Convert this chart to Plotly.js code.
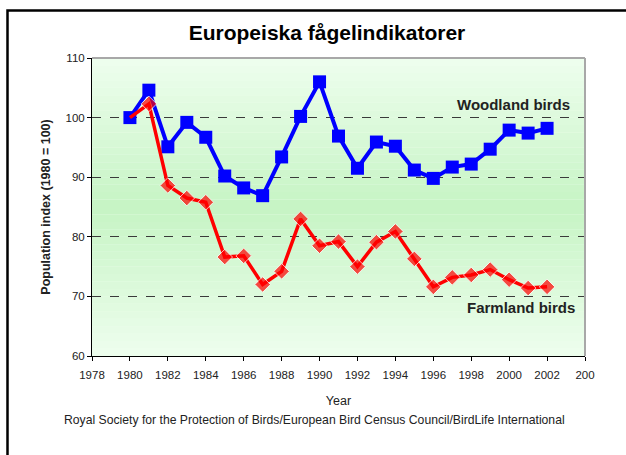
<!DOCTYPE html>
<html>
<head>
<meta charset="utf-8">
<script src="https://cdn.plot.ly/plotly-3.0.1.min.js"></script>
<style>html,body{margin:0;padding:0;background:#fff;}#chart{width:626px;height:455px;}</style>
</head>
<body>
<div id="chart"></div>
<script>
const years = [1980,1981,1982,1983,1984,1985,1986,1987,1988,1989,1990,1991,1992,1993,1994,1995,1996,1997,1998,1999,2000,2001,2002];
const woodland = [100,104.6,95.1,99.2,96.7,90.2,88.2,86.9,93.4,100.2,106.0,96.9,91.5,95.9,95.2,91.2,89.8,91.7,92.2,94.7,97.9,97.4,98.2];
const farmland = [100,102.3,88.6,86.5,85.8,76.6,76.8,72.0,74.2,83.0,78.5,79.2,75.0,79.1,80.9,76.3,71.6,73.2,73.6,74.5,72.8,71.4,71.6];
const xTickVals = [1978,1980,1982,1984,1986,1988,1990,1992,1994,1996,1998,2000,2002,2004];
const xTickText = ["1978","1980","1982","1984","1986","1988","1990","1992","1994","1996","1998","2000","2002","200"];
const yTickVals = [60,70,80,90,100,110];
const titleText = "Europeiska fågelindikatorer";
const yTitle = "Population index (1980 = 100)";
const xTitle = "Year";
const sourceText = "Royal Society for the Protection of Birds/European Bird Census Council/BirdLife International";
const labelWood = "Woodland birds";
const labelFarm = "Farmland birds";

// background gradient bands
const shapes = [];
const nb = 40;
const edge = [238,254,238], mid = [198,244,196];
for (let i = 0; i < nb; i++) {
  const c = (i + 0.5) / nb;
  const t = 1 - Math.abs(c - 0.5) / 0.5;
  const col = edge.map((e, k) => Math.round(e + (mid[k] - e) * t));
  shapes.push({type:'rect', xref:'paper', yref:'paper', x0:0, x1:1, y0:i/nb, y1:(i+1)/nb,
    fillcolor:'rgb(' + col.join(',') + ')', line:{width:0}, layer:'below'});
}
// plot border (top, right)
shapes.push({type:'line', xref:'paper', yref:'paper', x0:0, x1:1, y0:1, y1:1, line:{color:'#a8a8a8', width:2}, layer:'above'});
shapes.push({type:'line', xref:'paper', yref:'paper', x0:1, x1:1, y0:0, y1:1, line:{color:'#a8a8a8', width:2}, layer:'above'});
// outer frame
shapes.push({type:'rect', xref:'paper', yref:'paper', x0:-0.1714, x1:2, y0:-2, y1:1.1594, line:{color:'#000', width:2.5}, fillcolor:'rgba(0,0,0,0)', layer:'above'});

const traces = [
  {x: years, y: woodland, type:'scatter', mode:'lines+markers',
   line:{color:'#0000ff', width:4}, marker:{symbol:'square', size:13, color:'#0000ff'}, hoverinfo:'skip'},
  {x: years, y: farmland, type:'scatter', mode:'lines+markers',
   line:{color:'#ff0000', width:3.5}, marker:{symbol:'diamond', size:farmland.map((v,i)=> i===0 ? 0 : 12), color:'#ff0000'}, hoverinfo:'skip'}
];

const layout = {
  width:626, height:455,
  margin:{l:92, r:41, t:58, b:99},
  paper_bgcolor:'#ffffff', plot_bgcolor:'#eefeee',
  showlegend:false,
  font:{family:'Liberation Sans, Arial, sans-serif', color:'#222', size:11},
  title:{text:'<b>' + titleText + '</b>', font:{size:21, color:'#000', family:'Liberation Sans, Arial, sans-serif'}, x:327/626, xanchor:'center', y:1-33/455, yanchor:'middle'},
  xaxis:{range:[1978,2004], tickvals:xTickVals, ticktext:xTickText, showgrid:false, zeroline:false,
    showline:true, linecolor:'#000', linewidth:1, ticks:'outside', ticklen:4, tickcolor:'#000',
    ticklabelstandoff:4,
    tickfont:{size:11.5, color:'#222'},
    title:{text:xTitle, font:{size:12.5, color:'#222'}, standoff:16}},
  yaxis:{range:[60,110], tickvals:yTickVals, showgrid:true, gridcolor:'#3a3a3a', griddash:'dash', gridwidth:1.2,
    zeroline:false, showline:true, linecolor:'#000', linewidth:1, ticks:'outside', ticklen:4, tickcolor:'#000',
    tickfont:{size:11.5, color:'#222'},
    title:{text:'<b>' + yTitle + '</b>', font:{size:12.5, color:'#222'}, standoff:12}},
  shapes: shapes,
  annotations:[
    {text:'<b>' + labelWood + '</b>', xref:'paper', yref:'y', x:0.973, y:102.2, xanchor:'right', yanchor:'middle', showarrow:false, font:{size:15, color:'#222'}},
    {text:'<b>' + labelFarm + '</b>', xref:'paper', yref:'y', x:0.983, y:68.1, xanchor:'right', yanchor:'middle', showarrow:false, font:{size:15, color:'#222'}},
    {text:sourceText, xref:'paper', yref:'paper', x:(314-92)/493, y:(356-420)/298, xanchor:'center', yanchor:'middle', showarrow:false, font:{size:12.2, color:'#222'}}
  ]
};
Plotly.newPlot('chart', traces, layout, {displayModeBar:false, staticPlot:true});
</script>
</body>
</html>
